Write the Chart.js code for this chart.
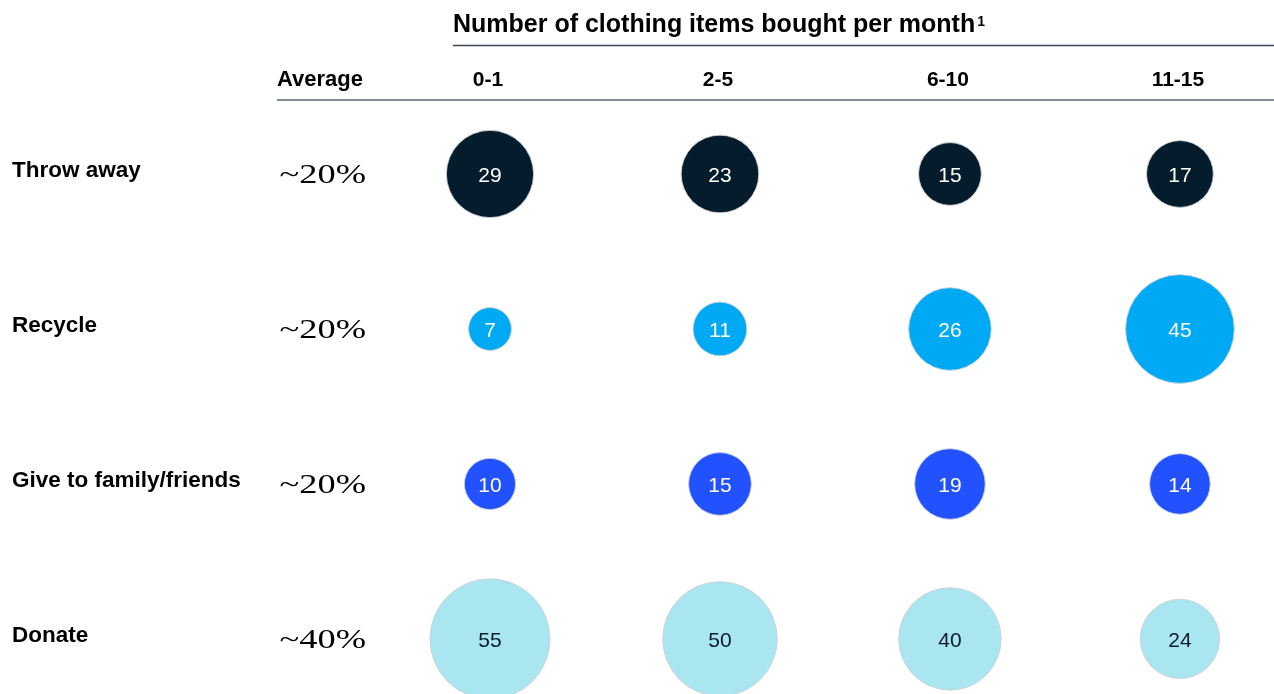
<!DOCTYPE html>
<html>
<head>
<meta charset="utf-8">
<script src="https://cdn.jsdelivr.net/npm/chart.js@4.4.1/dist/chart.umd.min.js"></script>
<style>
    html, body { margin: 0; padding: 0; background: #fff; }
    #wrap { width: 1274px; height: 694px; position: relative; }
</style>
</head>
<body>
<div id="wrap"><canvas id="chart"></canvas></div>
<script>
const title = "Number of clothing items bought per month";
const columns = ["0-1", "2-5", "6-10", "11-15"];
const rows = ["Throw away", "Recycle", "Give to family/friends", "Donate"];
const averages = ["~20%", "~20%", "~20%", "~40%"];

// share (%) per row, one value per column
const throwAway = [29, 23, 15, 17];
const recycle = [7, 11, 26, 45];
const giveAway = [10, 15, 19, 14];
const donate = [55, 50, 40, 24];

const rowColors = ['#051c2c', '#00a9f4', '#2251ff', '#aae6f0'];
const textColors = ['#ffffff', '#ffffff', '#ffffff', '#051c2c'];

const SANS = '"Liberation Sans", Arial, sans-serif';
const SERIF = '"Liberation Serif", Georgia, serif';

const toPoints = (values, row) => values.map((v, i) => ({ x: i, y: row, v: v }));

const datasets = [throwAway, recycle, giveAway, donate].map((values, row) => ({
    label: rows[row],
    data: toPoints(values, row),
    backgroundColor: rowColors[row],
    borderColor: 'rgba(205,210,215,0.9)',
    borderWidth: 1,
    hoverBorderWidth: 1,
    radius: ctx => 8.1 * Math.sqrt(ctx.raw.v),
    clip: false
}));

const tablePlugin = {
    id: 'tableText',
    afterDatasetsDraw(chart) {
        const { ctx, scales } = chart;
        const xs = scales.x, ys = scales.y;
        ctx.save();

        // bubble values
        ctx.textAlign = 'center';
        ctx.textBaseline = 'middle';
        ctx.font = '21px ' + SANS;
        chart.data.datasets.forEach((ds, row) => {
            ds.data.forEach(p => {
                ctx.fillStyle = textColors[row];
                ctx.fillText(String(p.v), xs.getPixelForValue(p.x), ys.getPixelForValue(p.y) + 2);
            });
        });

        // title + rule
        ctx.textBaseline = 'alphabetic';
        ctx.textAlign = 'left';
        ctx.fillStyle = '#000';
        ctx.font = 'bold 25px ' + SANS;
        ctx.fillText(title, 453, 32);
        const tw = ctx.measureText(title).width;
        ctx.font = 'bold 14px ' + SANS;
        ctx.fillText('1', 453 + tw + 2, 26);

        ctx.strokeStyle = '#3c4a56';
        ctx.lineWidth = 1.5;
        ctx.beginPath();
        ctx.moveTo(453, 45.5);
        ctx.lineTo(1274, 45.5);
        ctx.stroke();

        // column headers
        ctx.font = 'bold 22px ' + SANS;
        ctx.fillText('Average', 277, 86);
        ctx.font = 'bold 21px ' + SANS;
        ctx.textAlign = 'center';
        columns.forEach((c, i) => ctx.fillText(c, xs.getPixelForValue(i) - 2, 86));

        ctx.strokeStyle = '#858d94';
        ctx.lineWidth = 2;
        ctx.beginPath();
        ctx.moveTo(277, 100);
        ctx.lineTo(1274, 100);
        ctx.stroke();

        // row labels and averages
        rows.forEach((r, i) => {
            const y = ys.getPixelForValue(i);
            ctx.textAlign = 'left';
            ctx.font = 'bold 22.5px ' + SANS;
            ctx.fillStyle = '#000';
            ctx.fillText(r, 12, y + 3);

            ctx.save();
            ctx.font = '28px ' + SERIF;
            ctx.textAlign = 'right';
            ctx.translate(366, y + 9);
            ctx.scale(1.3, 1);
            ctx.fillText(averages[i], 0, 0);
            ctx.restore();
        });
        ctx.restore();
    }
};

new Chart(document.getElementById('chart'), {
    type: 'bubble',
    data: { datasets: datasets },
    options: {
        responsive: true,
        maintainAspectRatio: false,
        animation: false,
        layout: { padding: { left: 260, right: 61, top: 110, bottom: 61 } },
        plugins: {
            legend: { display: false },
            tooltip: { enabled: false }
        },
        scales: {
            x: { type: 'linear', min: -1, max: 3.1435, display: false },
            y: { type: 'linear', min: -0.4129, max: 2.9613, reverse: true, display: false }
        }
    },
    plugins: [tablePlugin]
});
</script>
</body>
</html>
